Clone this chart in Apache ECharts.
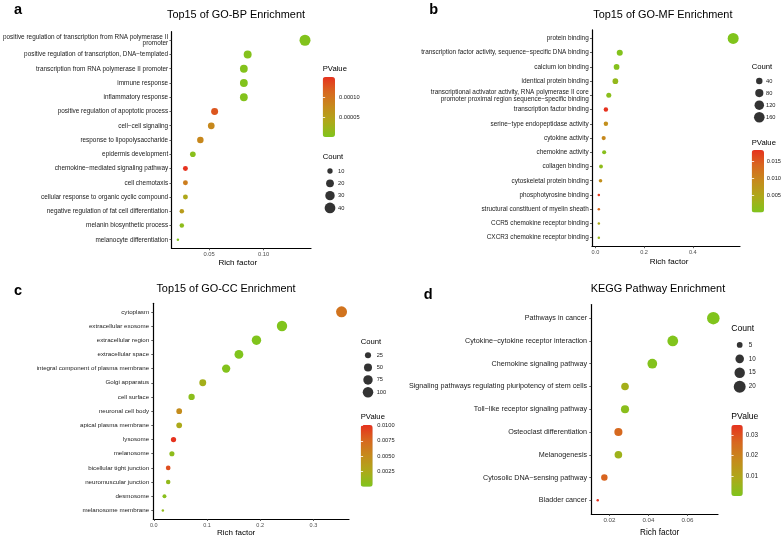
<!DOCTYPE html>
<html><head><meta charset="utf-8">
<script src="https://cdn.jsdelivr.net/npm/echarts@6/dist/echarts.min.js"></script>
<style>html,body{margin:0;padding:0;background:#fff}#c{width:784px;height:538px}</style>
</head><body><div id="c"></div>
<script>
// ---------- DATA ----------
// a: GO-BP
const bpTerms = [
 'positive regulation of transcription from RNA polymerase II\npromoter',
 'positive regulation of transcription, DNA\u2212templated',
 'transcription from RNA polymerase II promoter',
 'immune response',
 'inflammatory response',
 'positive regulation of apoptotic process',
 'cell\u2212cell signaling',
 'response to lipopolysaccharide',
 'epidermis development',
 'chemokine\u2212mediated signaling pathway',
 'cell chemotaxis',
 'cellular response to organic cyclic compound',
 'negative regulation of fat cell differentiation',
 'melanin biosynthetic process',
 'melanocyte differentiation'];
const bpRich  = [0.138, 0.0854, 0.0819, 0.0819, 0.0819, 0.0551, 0.052, 0.042, 0.0351, 0.0283, 0.0283, 0.0283, 0.025, 0.025, 0.0214];
const bpCount = [42, 21, 20, 20, 20, 16, 15, 14, 11, 9, 9, 9, 8, 8, 6];
const bpP     = [0.000002, 0.000004, 0.000003, 0.000002, 0.000003, 0.000125, 0.000078, 0.00008, 0.000008, 0.00015, 0.00009, 0.00004, 0.000055, 0.000012, 0.0000005];
const bpXTicks = [0.05, 0.10];
const bpXLabels = ['0.05', '0.10'];
const bpPTicks = [0.00005, 0.00010];
const bpPLabels = ['0.00005', '0.00010'];
const bpCountTicks = [10, 20, 30, 40];

// b: GO-MF
const mfTerms = [
 'protein binding',
 'transcription factor activity, sequence\u2212specific DNA binding',
 'calcium ion binding',
 'identical protein binding',
 'transcriptional activator activity, RNA polymerase II core\npromoter proximal region sequence\u2212specific binding',
 'transcription factor binding',
 'serine\u2212type endopeptidase activity',
 'cytokine activity',
 'chemokine activity',
 'collagen binding',
 'cytoskeletal protein binding',
 'phosphotyrosine binding',
 'structural constituent of myelin sheath',
 'CCR5 chemokine receptor binding',
 'CXCR3 chemokine receptor binding'];
const mfRich  = [0.566, 0.100, 0.087, 0.082, 0.055, 0.043, 0.043, 0.034, 0.036, 0.023, 0.021, 0.014, 0.014, 0.014, 0.014];
const mfCount = [175, 33, 28, 27, 18, 12, 12, 10, 9, 7, 6, 3, 3, 3, 3];
const mfP     = [0.00001, 0.0003, 0.0005, 0.002, 0.001, 0.0183, 0.0085, 0.0095, 0.0008, 0.0015, 0.0085, 0.0178, 0.0135, 0.0045, 0.0025];
const mfXTicks = [0.0, 0.2, 0.4];
const mfXLabels = ['0.0', '0.2', '0.4'];
const mfPTicks = [0.005, 0.010, 0.015];
const mfPLabels = ['0.005', '0.010', '0.015'];
const mfCountTicks = [40, 80, 120, 160];

// c: GO-CC
const ccTerms = ['cytoplasm', 'extracellular exosome', 'extracellular region', 'extracellular space',
 'integral component of plasma membrane', 'Golgi apparatus', 'cell surface', 'neuronal cell body',
 'apical plasma membrane', 'lysosome', 'melanosome', 'bicellular tight junction',
 'neuromuscular junction', 'desmosome', 'melanosome membrane'];
const ccRich  = [0.353, 0.241, 0.193, 0.160, 0.136, 0.092, 0.071, 0.0477, 0.0477, 0.037, 0.034, 0.027, 0.027, 0.020, 0.017];
const ccCount = [110, 95, 75, 64, 55, 34, 27, 21, 21, 17, 16, 13, 12, 9, 6];
const ccP     = [0.0068, 0.00001, 0.00002, 0.00003, 0.0002, 0.002, 0.0006, 0.005, 0.0025, 0.0101, 0.0008, 0.0088, 0.001, 0.0005, 0.001];
const ccXTicks = [0.0, 0.1, 0.2, 0.3];
const ccXLabels = ['0.0', '0.1', '0.2', '0.3'];
const ccPTicks = [0.0025, 0.0050, 0.0075, 0.0100];
const ccPLabels = ['0.0025', '0.0050', '0.0075', '0.0100'];
const ccCountTicks = [25, 50, 75, 100];

// d: KEGG
const keggTerms = ['Pathways in cancer', 'Cytokine\u2212cytokine receptor interaction', 'Chemokine signaling pathway',
 'Signaling pathways regulating pluripotency of stem cells', 'Toll\u2212like receptor signaling pathway',
 'Osteoclast differentiation', 'Melanogenesis', 'Cytosolic DNA\u2212sensing pathway', 'Bladder cancer'];
const keggRich  = [0.0733, 0.0525, 0.042, 0.028, 0.028, 0.0246, 0.0246, 0.0174, 0.014];
const keggCount = [22, 16, 13, 8, 9, 9, 8, 6, 3];
const keggP     = [0.0001, 0.0002, 0.0006, 0.007, 0.002, 0.026, 0.006, 0.027, 0.035];
const keggXTicks = [0.02, 0.04, 0.06];
const keggXLabels = ['0.02', '0.04', '0.06'];
const keggPTicks = [0.01, 0.02, 0.03];
const keggPLabels = ['0.01', '0.02', '0.03'];
const keggCountTicks = [5, 10, 15, 20];

// ---------- LAYOUT / STYLE ----------
const FONT = "'Liberation Sans', Arial, Helvetica, sans-serif";
const pColors = ['#80C41C', '#ADA91A', '#C58B1C', '#D7681F', '#E6321E'];

const panels = [
 { terms: bpTerms, rich: bpRich, count: bpCount, p: bpP, xTicks: bpXTicks, xLabels: bpXLabels, pTicks: bpPTicks, pLabels: bpPLabels, cTicks: bpCountTicks,
   title: 'Top15 of GO-BP Enrichment', letter: 'a',
   L: { grid: {left: 168, top: 31.7, width: 143, height: 216.6}, xMin: 0.0155, xMax: 0.1435,
        catFont: 6.4, catLH: 6.8, catMargin: 3.3, tickFont: 5.8, nameFont: 8.1, nameGap: 10, namePad: [0, 7, 0, 0],
        titleXY: [236, 14.7], letterXY: [18, 10],
        cbar: {left: 322.7, top: 77, w: 12.3, h: 60, margin: 4}, pTitleXY: [322.7, 69],
        rMin: 2.5, rMax: 11, sLeg: {x: 330, top: 164.8, step: 12.33, margin: 4}, cTitleXY: [322.7, 157],
        legTitleFont: 7.7, legFont: 5.7 } },
 { terms: mfTerms, rich: mfRich, count: mfCount, p: mfP, xTicks: mfXTicks, xLabels: mfXLabels, pTicks: mfPTicks, pLabels: mfPLabels, cTicks: mfCountTicks,
   title: 'Top15 of GO-MF Enrichment', letter: 'b',
   L: { grid: {left: 592, top: 29.9, width: 148, height: 216.3}, xMin: -0.014, xMax: 0.594,
        catFont: 6.4, catLH: 7.2, catMargin: 3.3, tickFont: 5.6, nameFont: 8.1, nameGap: 12, namePad: [0, 0, 0, 6],
        titleXY: [662.8, 14.7], letterXY: [433.7, 10],
        cbar: {left: 751.7, top: 150, w: 12.3, h: 62.5, margin: 3.5}, pTitleXY: [751.7, 143],
        rMin: 2.5, rMax: 11, sLeg: {x: 759.3, top: 74.95, step: 12.1, margin: 2.7}, cTitleXY: [751.7, 67],
        legTitleFont: 7.7, legFont: 5.7 } },
 { terms: ccTerms, rich: ccRich, count: ccCount, p: ccP, xTicks: ccXTicks, xLabels: ccXLabels, pTicks: ccPTicks, pLabels: ccPLabels, cTicks: ccCountTicks,
   title: 'Top15 of GO-CC Enrichment', letter: 'c',
   L: { grid: {left: 153.3, top: 303.3, width: 195.7, height: 217.4}, xMin: -0.001, xMax: 0.367,
        catFont: 6.2, catLH: 7, catMargin: 4.2, tickFont: 5.5, nameFont: 8, nameGap: 10, namePad: [0, 30, 0, 0],
        titleXY: [226, 289.3], letterXY: [18, 290.7],
        cbar: {left: 360.7, top: 425, w: 12, h: 61.7, margin: 4.5}, pTitleXY: [360.7, 417],
        rMin: 2.5, rMax: 11, sLeg: {x: 368, top: 349.1, step: 12.33, margin: 4.7}, cTitleXY: [360.7, 341.7],
        legTitleFont: 7.7, legFont: 5.7 } },
 { terms: keggTerms, rich: keggRich, count: keggCount, p: keggP, xTicks: keggXTicks, xLabels: keggXLabels, pTicks: keggPTicks, pLabels: keggPLabels, cTicks: keggCountTicks,
   title: 'KEGG Pathway Enrichment', letter: 'd',
   L: { grid: {left: 591.3, top: 304.5, width: 126.7, height: 211}, xMin: 0.0107, xMax: 0.0757,
        catFont: 7.2, catLH: 8, catMargin: 4.2, tickFont: 6.2, nameFont: 8.2, nameGap: 15, namePad: [0, 0, 0, 10],
        titleXY: [658, 289.3], letterXY: [428.2, 295],
        cbar: {left: 731.3, top: 425, w: 11.5, h: 71, margin: 3}, pTitleXY: [731.3, 416.7],
        rMin: 2.5, rMax: 12.5, sLeg: {x: 739.7, top: 338, step: 13.9, margin: 5}, cTitleXY: [731.3, 329],
        legTitleFont: 8.6, legFont: 6.3 } }
];

function makeSize(P) {
  const mn = Math.min(...P.count), mx = Math.max(...P.count);
  return c => P.L.rMin + (P.L.rMax - P.L.rMin) * Math.sqrt(Math.max(0, c - mn) / (mx - mn));
}

const grids = [], xAxes = [], yAxes = [], series = [], visualMaps = [], graphics = [];
const N = panels.length;

// main grids
panels.forEach((P, i) => {
  const L = P.L;
  grids[i] = Object.assign({containLabel: false}, L.grid);
  const idx = P.terms.map((t, k) => k);
  xAxes[i] = {
    type: 'value', gridIndex: i, min: L.xMin, max: L.xMax,
    axisLine: {show: true, onZero: false, lineStyle: {color: '#000', width: 1.2}},
    axisTick: {show: true, customValues: P.xTicks, length: 2, lineStyle: {color: '#333', width: 0.8}},
    axisLabel: {customValues: P.xTicks, formatter: v => { const j = P.xTicks.findIndex(t => Math.abs(t - v) < 1e-9); return j >= 0 ? P.xLabels[j] : ''; },
                fontSize: L.tickFont, color: '#4d4d4d', margin: 3, fontFamily: FONT},
    splitLine: {show: false},
    name: 'Rich factor', nameLocation: 'middle', nameGap: L.nameGap,
    nameTextStyle: {fontSize: L.nameFont, color: '#000', fontFamily: FONT, padding: L.namePad}
  };
  yAxes[i] = {
    type: 'value', gridIndex: i, inverse: true, min: -0.6, max: P.terms.length - 0.4,
    axisLine: {show: true, onZero: false, lineStyle: {color: '#000', width: 1.2}},
    axisTick: {show: true, customValues: idx, length: 2, lineStyle: {color: '#333', width: 0.8}},
    axisLabel: {customValues: idx, formatter: v => P.terms[Math.round(v)] || '', fontSize: L.catFont, lineHeight: L.catLH,
                color: '#1a1a1a', margin: L.catMargin, fontFamily: FONT, align: 'right'},
    splitLine: {show: false}
  };
  const size = makeSize(P);
  series[i] = {
    type: 'scatter', xAxisIndex: i, yAxisIndex: i, animation: false,
    data: P.terms.map((t, k) => [P.rich[k], k, P.p[k], P.count[k]]),
    encode: {x: 0, y: 1},
    symbolSize: v => size(v[3]),
    itemStyle: {opacity: 1},
    emphasis: {disabled: true}
  };
  const pMin = Math.min(...P.p), pMax = Math.max(...P.p);
  P.pMin = pMin; P.pMax = pMax;
  visualMaps[i] = {
    type: 'continuous', seriesIndex: i, dimension: 2, min: pMin, max: pMax,
    inRange: {color: pColors}, orient: 'vertical', left: L.cbar.left, top: L.cbar.top,
    itemWidth: L.cbar.w, itemHeight: L.cbar.h, calculable: false, padding: 0, text: null,
    hoverLink: false, realtime: false, textStyle: {fontSize: 0}
  };
  // texts
  graphics.push({type: 'text', x: L.titleXY[0], y: L.titleXY[1], style: {text: P.title, fontSize: 10.9, fontFamily: FONT, fill: '#000', textAlign: 'center', textVerticalAlign: 'middle'}});
  graphics.push({type: 'text', x: L.letterXY[0], y: L.letterXY[1], style: {text: P.letter, fontSize: 14.5, fontWeight: 'bold', fontFamily: FONT, fill: '#000', textAlign: 'center', textVerticalAlign: 'middle'}});
  graphics.push({type: 'text', x: L.pTitleXY[0], y: L.pTitleXY[1], style: {text: 'PValue', fontSize: L.legTitleFont, fontFamily: FONT, fill: '#000', textAlign: 'left', textVerticalAlign: 'middle'}});
  graphics.push({type: 'text', x: L.cTitleXY[0], y: L.cTitleXY[1], style: {text: 'Count', fontSize: L.legTitleFont, fontFamily: FONT, fill: '#000', textAlign: 'left', textVerticalAlign: 'middle'}});
});

// size legend grids
panels.forEach((P, i) => {
  const L = P.L, g = N + i;
  const n = P.cTicks.length;
  grids[g] = {left: L.sLeg.x - 4, top: L.sLeg.top, width: 8, height: L.sLeg.step * n, containLabel: false};
  xAxes[g] = {type: 'value', gridIndex: g, min: -1, max: 1, show: false};
  const idx = P.cTicks.map((c, k) => k);
  yAxes[g] = {
    type: 'value', gridIndex: g, position: 'right', inverse: true, min: -0.5, max: n - 0.5,
    axisLine: {show: false}, axisTick: {show: false}, splitLine: {show: false},
    axisLabel: {customValues: idx, formatter: v => String(P.cTicks[Math.round(v)]), fontSize: L.legFont, color: '#1a1a1a',
                margin: L.sLeg.margin, fontFamily: FONT}
  };
  const size = makeSize(P);
  series[g] = {
    type: 'scatter', xAxisIndex: g, yAxisIndex: g, animation: false, silent: true,
    data: P.cTicks.map((c, k) => [0, k, c]),
    symbolSize: v => size(v[2]),
    itemStyle: {color: '#000'}
  };
});

// colourbar tick grids
panels.forEach((P, i) => {
  const L = P.L, g = 2 * N + i;
  grids[g] = {left: L.cbar.left, top: L.cbar.top, width: L.cbar.w, height: L.cbar.h, containLabel: false};
  xAxes[g] = {type: 'value', gridIndex: g, min: 0, max: 1, show: false};
  const fmt = v => { const j = P.pTicks.findIndex(t => Math.abs(t - v) < 1e-12); return j >= 0 ? P.pLabels[j] : ''; };
  yAxes[g] = {
    type: 'value', gridIndex: g, position: 'right', min: P.pMin, max: P.pMax, z: 10,
    axisLine: {show: false}, splitLine: {show: false},
    axisTick: {show: true, inside: true, customValues: P.pTicks, length: L.cbar.w * 0.2, lineStyle: {color: '#fff', width: 0.8}},
    axisLabel: {customValues: P.pTicks, formatter: fmt, fontSize: L.legFont, color: '#1a1a1a', margin: L.cbar.margin, fontFamily: FONT}
  };
  yAxes[3 * N + i] = {
    type: 'value', gridIndex: g, position: 'left', min: P.pMin, max: P.pMax, z: 10,
    axisLine: {show: false}, splitLine: {show: false}, axisLabel: {show: false},
    axisTick: {show: true, inside: true, customValues: P.pTicks, length: L.cbar.w * 0.2, lineStyle: {color: '#fff', width: 0.8}}
  };
});

const chart = echarts.init(document.getElementById('c'), null, {renderer: 'canvas'});
chart.setOption({
  backgroundColor: '#fff',
  animation: false,
  textStyle: {fontFamily: FONT},
  grid: grids, xAxis: xAxes, yAxis: yAxes, series: series, visualMap: visualMaps,
  graphic: {elements: graphics}
});
</script></body></html>
